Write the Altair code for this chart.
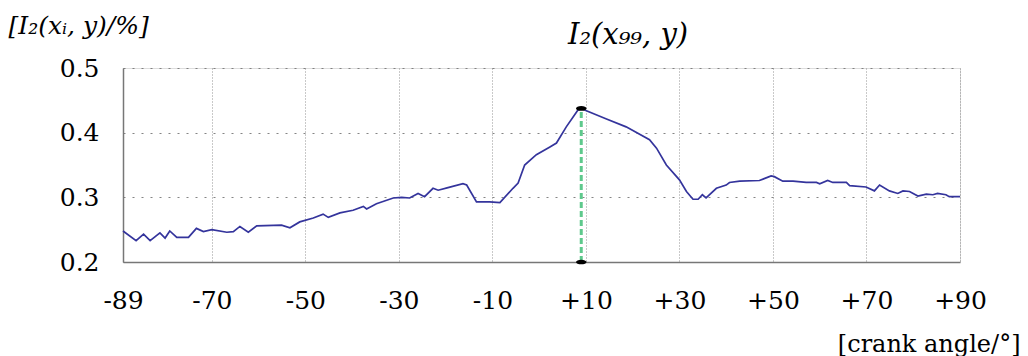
import altair as alt
import pandas as pd

# ---- data ----
angle = [-89, -86.2, -84.6, -83.2, -81.1, -80, -79, -77.5, -75, -73.3,
         -71.8, -70, -66.8, -65.4, -64, -62.2, -60.4, -55.1, -53.3, -51.2,
         -48.3, -46.2, -45.1, -42.6, -39.8, -37.6, -36.9, -34.8, -31.2, -29.4,
         -27.7, -25.9, -24.5, -22.7, -21.6, -19.5, -16.3, -15.5, -13.4, -10.6,
         -8.4, -5.6, -4.5, -3.1, -0.6, 2.3, 3.7, 5.8, 8.3, 9.0,
         10.1, 14.4, 18.6, 23.6, 25.1, 27.2, 30.0, 31.5, 32.9, 34.0,
         34.9, 35.7, 37.9, 40.0, 40.7, 42.9, 47.1, 49.6, 50.3, 52.1,
         54.3, 57.1, 59.3, 60.0, 61.7, 62.8, 65.7, 66.4, 69.9, 71.7,
         72.8, 74.9, 76.7, 77.8, 79.2, 81.0, 82.8, 84.2, 85.2, 87.0,
         87.7, 90]
intensity = [0.248, 0.233, 0.243, 0.233, 0.245, 0.237, 0.248, 0.238, 0.238, 0.252,
             0.247, 0.250, 0.246, 0.247, 0.255, 0.246, 0.256, 0.257, 0.253, 0.262,
             0.268, 0.274, 0.269, 0.276, 0.280, 0.286, 0.282, 0.290, 0.299, 0.300,
             0.299, 0.306, 0.301, 0.314, 0.311, 0.315, 0.321, 0.319, 0.293, 0.293,
             0.292, 0.314, 0.322, 0.350, 0.366, 0.378, 0.384, 0.409, 0.435, 0.4375,
             0.434, 0.421, 0.409, 0.389, 0.376, 0.350, 0.327, 0.309, 0.297, 0.297,
             0.304, 0.299, 0.314, 0.319, 0.323, 0.325, 0.326, 0.333, 0.332, 0.325,
             0.325, 0.323, 0.323, 0.321, 0.326, 0.323, 0.323, 0.318, 0.316, 0.310,
             0.319, 0.310, 0.306, 0.310, 0.309, 0.302, 0.305, 0.304, 0.306, 0.304,
             0.301, 0.301]

x_ticks = [-89, -70, -50, -30, -10, 10, 30, 50, 70, 90]
x_tick_labels = ["-89", "-70", "-50", "-30", "-10", "+10", "+30", "+50", "+70", "+90"]
y_ticks = [0.2, 0.25, 0.3, 0.35, 0.4, 0.45, 0.5]

marker_angle = [9, 9]
marker_value = [0.2, 0.4375]

title_text = "I₂(x₉₉, y)"
y_title = "[I₂(xᵢ, y)/%]"
x_title = "[crank angle/°]"

SERIF = "DejaVu Serif"

df = pd.DataFrame({"angle": angle, "intensity": intensity})
mk = pd.DataFrame({"angle": marker_angle, "value": marker_value})
rule_df = pd.DataFrame({"angle": [marker_angle[0]], "low": [min(marker_value)],
                        "high": [max(marker_value)]})

label_expr = ""
for v, s in zip(x_ticks, x_tick_labels):
    label_expr += f"datum.value == {v} ? '{s}' : "
label_expr += "''"

xscale = alt.Scale(domain=[-89, 90], nice=False, zero=False)
yscale = alt.Scale(domain=[0.2, 0.5], nice=False, zero=False)

xaxis = alt.Axis(values=x_ticks, labelExpr=label_expr, grid=True,
                 gridDash=[1, 2], gridColor="#888888", gridOpacity=0.9,
                 ticks=False, labelFont=SERIF, labelFontSize=25, labelColor="black",
                 labelPadding=26, domainColor="#777777", domainWidth=1.5,
                 title=x_title, titleFont=SERIF, titleFontSize=24,
                 titleFontWeight="normal", titleColor="black",
                 titleAlign="right", titleBaseline="middle",
                 titleX=897, titleY=82, labelFlush=False)
yaxis = alt.Axis(values=y_ticks,
                 labelExpr="round(datum.value*20) % 2 == 0 ? format(datum.value, '.1f') : ''",
                 grid=True, gridDash=[2, 7], gridColor="#777777", gridOpacity=0.9,
                 ticks=False, labelFont=SERIF, labelFontSize=25, labelColor="black",
                 labelPadding=24, domainColor="#777777", domainWidth=1.5,
                 title=y_title, titleFont=SERIF, titleFontSize=25,
                 titleFontWeight="normal", titleFontStyle="italic", titleColor="black",
                 titleAngle=0, titleAlign="left", titleBaseline="middle",
                 titleX=-115, titleY=-43, labelFlush=False)

line = alt.Chart(df).mark_line(color="#34349c", strokeWidth=1.7).encode(
    x=alt.X("angle:Q", scale=xscale, axis=xaxis),
    y=alt.Y("intensity:Q", scale=yscale, axis=yaxis),
)

rule = alt.Chart(rule_df).mark_rule(color="#5ec98c", strokeWidth=3,
                                    strokeDash=[6, 3]).encode(
    x=alt.X("angle:Q", scale=xscale),
    y=alt.Y("low:Q", scale=yscale),
    y2="high:Q",
)

ellipse = "M -1 0 A 1 0.45 0 1 0 1 0 A 1 0.45 0 1 0 -1 0 Z"
dots = alt.Chart(mk).mark_point(shape=ellipse, filled=True, color="black",
                                size=110, opacity=1).encode(
    x=alt.X("angle:Q", scale=xscale),
    y=alt.Y("value:Q", scale=yscale),
)

title = alt.Chart(pd.DataFrame({"t": [title_text]})).mark_text(
    font=SERIF, fontSize=29, fontStyle="italic", color="black",
    align="center", baseline="middle",
).encode(x=alt.value(505), y=alt.value(-33), text="t:N")

chart = alt.layer(rule, line, dots, title).properties(
    width=837, height=194,
    autosize=alt.AutoSizeParams(type="none"),
    padding={"left": 123, "top": 68, "right": 68, "bottom": 94},
).configure_view(stroke="#b0b0b0", strokeWidth=1).configure(background="white")

chart.save("out.html", embed_options={"renderer": "svg", "actions": False})
